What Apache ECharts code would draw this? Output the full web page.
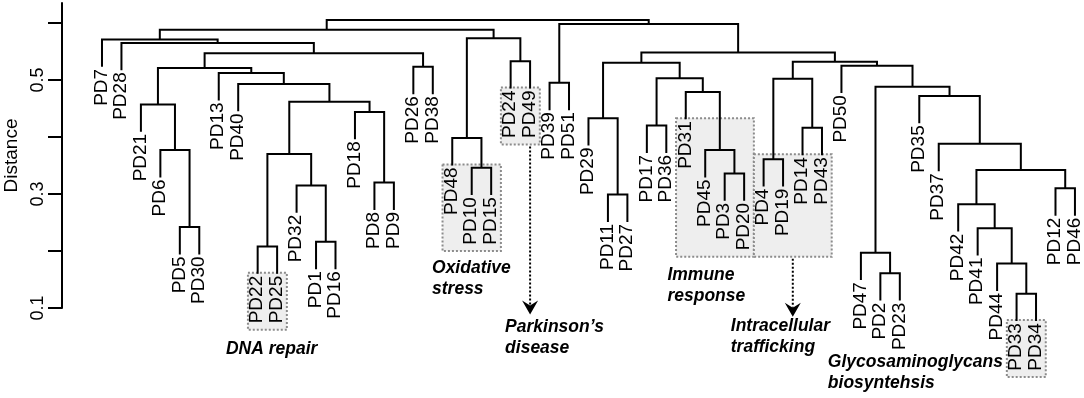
<!DOCTYPE html>
<html>
<head>
<meta charset="utf-8">
<script src="https://cdn.jsdelivr.net/npm/echarts@6/dist/echarts.min.js"></script>
<style>
html, body { margin: 0; padding: 0; background: #fff; }
#main { width: 1084px; height: 398px; }
</style>
</head>
<body>
<div id="main"></div>
<script>
// leaf order along the x axis
var leaves = ['PD7', 'PD28', 'PD21', 'PD6', 'PD5', 'PD30', 'PD13', 'PD40', 'PD22', 'PD25',
  'PD32', 'PD1', 'PD16', 'PD18', 'PD8', 'PD9', 'PD26', 'PD38', 'PD48', 'PD10', 'PD15',
  'PD24', 'PD49', 'PD39', 'PD51', 'PD29', 'PD11', 'PD27', 'PD17', 'PD36', 'PD31', 'PD45',
  'PD3', 'PD20', 'PD4', 'PD19', 'PD14', 'PD43', 'PD50', 'PD47', 'PD2', 'PD23', 'PD35',
  'PD37', 'PD42', 'PD41', 'PD44', 'PD33', 'PD34', 'PD12', 'PD46'];

// merges: a string is a leaf, a number is an earlier merge (1-based)
var merges = [
  ['PD5', 'PD30'], ['PD6', 1], ['PD21', 2], ['PD22', 'PD25'], ['PD1', 'PD16'],
  ['PD32', 5], [4, 6], ['PD8', 'PD9'], ['PD18', 8], [7, 9],
  ['PD40', 10], ['PD13', 11], [3, 12], ['PD26', 'PD38'], [13, 14],
  ['PD28', 15], ['PD7', 16], ['PD10', 'PD15'], ['PD48', 18], ['PD24', 'PD49'],
  [19, 20], [17, 21], ['PD39', 'PD51'], ['PD11', 'PD27'], ['PD29', 24],
  ['PD17', 'PD36'], ['PD3', 'PD20'], ['PD45', 27], ['PD31', 28], [26, 29],
  [25, 30], ['PD4', 'PD19'], ['PD14', 'PD43'], [32, 33], ['PD2', 'PD23'],
  ['PD47', 35], ['PD33', 'PD34'], ['PD44', 37], ['PD41', 38], ['PD42', 39],
  ['PD12', 'PD46'], [40, 41], ['PD37', 42], ['PD35', 43], [36, 44],
  ['PD50', 45], [34, 46], [31, 47], [23, 48], [22, 49]
];

// merge heights (distance)
var heights = [
  0.242, 0.377, 0.457, 0.208, 0.216,
  0.315, 0.370, 0.320, 0.444, 0.462,
  0.493, 0.512, 0.521, 0.523, 0.547,
  0.565, 0.571, 0.346, 0.398, 0.533,
  0.573, 0.588, 0.495, 0.299, 0.433,
  0.420, 0.336, 0.377, 0.479, 0.503,
  0.530, 0.361, 0.416, 0.502, 0.161,
  0.197, 0.125, 0.178, 0.240, 0.282,
  0.310, 0.342, 0.388, 0.472, 0.488,
  0.525, 0.532, 0.548, 0.598, 0.605
];

var yTicks = [0.1, 0.2, 0.3, 0.4, 0.5, 0.6];
var yLabels = [0.1, 0.3, 0.5];

// highlighted groups
var groupNames = ['DNA repair', 'Oxidative\nstress', 'Parkinson\u2019s\ndisease',
  'Immune\nresponse', 'Intracellular\ntrafficking', 'Glycosaminoglycans\nbiosyntehsis'];
var groupLeaves = [['PD22', 'PD25'], ['PD48', 'PD10', 'PD15'], ['PD24', 'PD49'],
  ['PD31', 'PD45', 'PD3', 'PD20'], ['PD4', 'PD19', 'PD14', 'PD43'], ['PD33', 'PD34']];

var hang = 0.048;
var FONT = '"Liberation Sans", Arial, Helvetica, sans-serif';

// build the tree geometry
var leafPos = {};
leaves.forEach(function (n, i) { leafPos[n] = i + 1; });
var leafEnd = {};
var nodeX = [];

function childX(c) { return typeof c === 'string' ? leafPos[c] : nodeX[c - 1]; }

var linkData = merges.map(function (m, i) {
  var h = heights[i];
  var ys = m.map(function (c) {
    if (typeof c === 'string') { leafEnd[c] = h - hang; return h - hang; }
    return heights[c - 1];
  });
  var x1 = childX(m[0]), x2 = childX(m[1]);
  nodeX.push((x1 + x2) / 2);
  return [x1, x2, h, ys[0], ys[1]];
});

var leafData = leaves.map(function (n) { return [leafPos[n], leafEnd[n]]; });

var chart = echarts.init(document.getElementById('main'));

chart.setOption({
  animation: false,
  grid: { left: 62, right: 0, top: 3, bottom: 90, containLabel: false, outerBoundsMode: 'none' },
  xAxis: { type: 'value', min: -1.055, max: 51.465, show: false },
  yAxis: {
    type: 'value', min: 0.1, max: 0.635, interval: 0.1,
    name: 'Distance', nameLocation: 'middle', nameGap: 41, nameRotate: 90,
    nameMoveOverlap: false,
    nameTextStyle: { fontSize: 19, color: '#000', fontFamily: FONT },
    axisLine: { show: true, onZero: false, lineStyle: { color: '#000', width: 2 } },
    axisTick: { show: true, length: 14, customValues: yTicks, lineStyle: { color: '#000', width: 2 } },
    axisLabel: {
      rotate: 90, margin: 15, fontSize: 18, color: '#000', fontFamily: FONT,
      customValues: yLabels,
      formatter: function (v) { return v.toFixed(1); }
    },
    splitLine: { show: false }
  },
  series: [
    {
      type: 'custom', z: 5, clip: false,
      encode: { x: [0, 1], y: [2, 3, 4] },
      data: linkData,
      renderItem: function (params, api) {
        var a = api.coord([api.value(0), api.value(3)]);
        var b = api.coord([api.value(0), api.value(2)]);
        var c = api.coord([api.value(1), api.value(2)]);
        var d = api.coord([api.value(1), api.value(4)]);
        return {
          type: 'polyline',
          shape: { points: [a, b, c, d] },
          style: { stroke: '#000', lineWidth: 2, fill: 'none' }
        };
      }
    },
    {
      type: 'custom', z: 5, clip: false,
      encode: { x: 0, y: 1 },
      data: leafData,
      renderItem: function (params, api) {
        var p = api.coord([api.value(0), api.value(1)]);
        return {
          type: 'text', x: p[0] - 0.5, y: p[1] + 2, rotation: Math.PI / 2,
          style: {
            text: leaves[params.dataIndex], align: 'right', verticalAlign: 'middle',
            font: '19px ' + FONT, fill: '#000'
          }
        };
      }
    }
  ]
});

// boxes, arrows and group labels
var annLayout = [
  { dx: -22, dy: 19 },
  { dx: -10.5, dy: 17 },
  { arrow: 'last', tip: 170, dx: -25, dy: 12.7 },
  { dx: -8.6, dy: 18 },
  { arrow: 'mid', tip: 60, dx: -62, dy: 9, alignPrev: true },
  { dx: -179, dy: -15 }
];

function px(x, y) { return chart.convertToPixel({ gridIndex: 0 }, [x, y]); }

var boxes = groupLeaves.map(function (g) {
  var first = leafPos[g[0]], last = leafPos[g[g.length - 1]];
  var ends = g.map(function (n) { return px(leafPos[n], leafEnd[n])[1]; });
  return {
    left: px(first - 0.5, 0.1)[0], right: px(last + 0.5, 0.1)[0],
    top: Math.min.apply(null, ends) - 1,
    bottom: Math.max.apply(null, ends) + 56,
    lastX: px(last, 0.1)[0]
  };
});
for (var i = 1; i < boxes.length; i++) {
  if (annLayout[i].alignPrev) {
    var bb = Math.max(boxes[i].bottom, boxes[i - 1].bottom);
    boxes[i].bottom = bb; boxes[i - 1].bottom = bb;
  }
}

var elements = [];
boxes.forEach(function (b, i) {
  var lay = annLayout[i];
  elements.push({
    type: 'rect', z: 1,
    shape: { x: b.left, y: b.top, width: b.right - b.left, height: b.bottom - b.top },
    style: { fill: '#eeeeee', stroke: '#8c8c8c', lineWidth: 2, lineDash: [2, 2] }
  });
  var tx, ty;
  if (lay.arrow) {
    var ax = lay.arrow === 'last' ? b.lastX : (b.left + b.right) / 2;
    var tip = b.bottom + lay.tip;
    elements.push({
      type: 'line', z: 6,
      shape: { x1: ax, y1: b.bottom + 2, x2: ax, y2: tip - 9 },
      style: { stroke: '#000', lineWidth: 2, lineDash: [2, 2] }
    });
    elements.push({
      type: 'polygon', z: 6,
      shape: { points: [[ax, tip], [ax - 8, tip - 14], [ax, tip - 9], [ax + 8, tip - 14]] },
      style: { fill: '#000' }
    });
    tx = ax + lay.dx; ty = tip + lay.dy;
  } else {
    tx = b.left + lay.dx; ty = b.bottom + lay.dy;
  }
  elements.push({
    type: 'text', z: 6, x: tx, y: ty - 10.5,
    style: {
      text: groupNames[i], font: 'italic bold 17.5px ' + FONT, fill: '#000',
      lineHeight: 21, verticalAlign: 'top', align: 'left'
    }
  });
});

chart.setOption({ graphic: { elements: elements } });
</script>
</body>
</html>
